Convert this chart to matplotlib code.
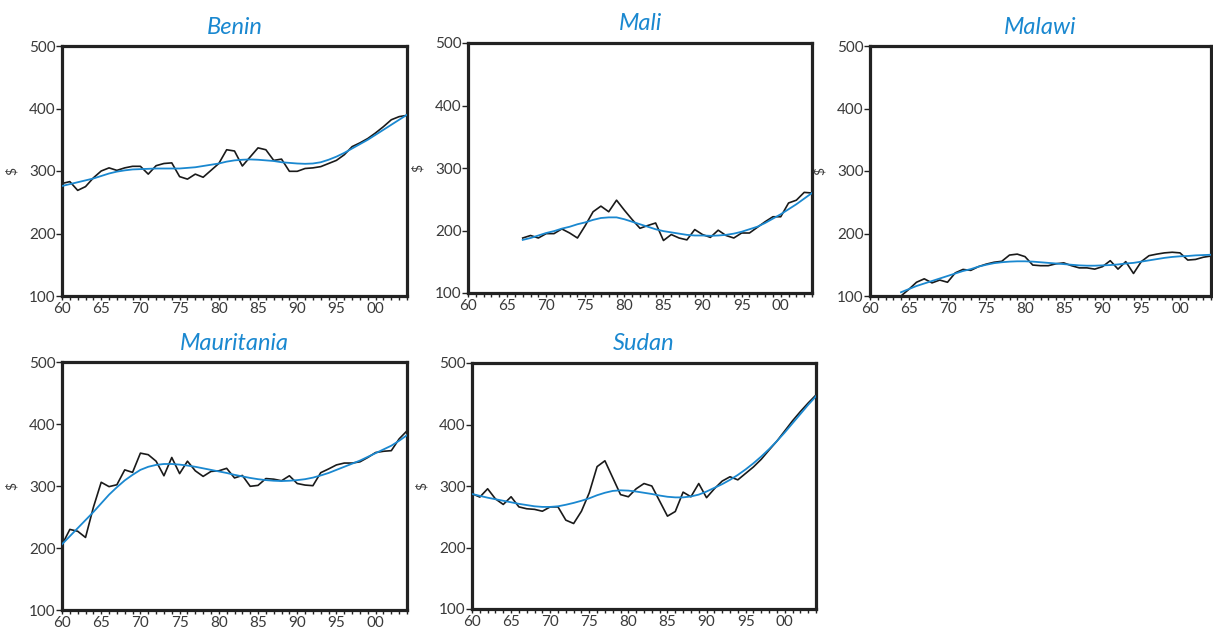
import numpy as np
import matplotlib
matplotlib.use("Agg")
import matplotlib.pyplot as plt
from matplotlib.ticker import MultipleLocator, FuncFormatter

plt.rcParams['font.family'] = ['Lato', 'DejaVu Sans']

countries = ["Benin", "Mali", "Malawi", "Mauritania", "Sudan"]

benin_years = list(range(1960, 2005))
benin_gdp = [280, 283, 269, 275, 289, 300, 305, 301, 305, 307.5, 307.5, 295, 308.5, 312, 313,
             291, 287, 295, 290, 301, 312, 334, 332, 308, 322.5, 337, 334, 317, 319, 299.5,
             299.5, 304, 305, 307, 312, 317, 326, 339, 345, 352, 361, 371, 382, 387, 389]
benin_trend = [276, 279, 282, 285, 288, 292, 296, 299, 301, 302.5, 303, 303.5, 304, 304, 304,
               304, 305, 306, 308, 310, 312, 315, 317, 318, 318.5, 318, 317, 316, 314, 313,
               312, 311.5, 312, 314, 318, 323, 329, 336, 343, 350, 358, 366, 374, 382, 390]

mali_years = list(range(1967, 2005))
mali_gdp = [188, 192, 188, 195, 195, 202.5, 196, 188, 208, 230, 239, 230, 248.5, 232.5, 217.5,
            203.5, 208, 212, 184, 193.5, 188, 185, 201.5, 193.5, 189, 200.5, 192, 188, 196, 196,
            205, 214, 222, 222, 244, 248.5, 261, 260]
mali_trend = [185, 188, 192, 196, 199, 203, 206, 210, 213, 217, 220, 221, 221, 218, 214,
              210, 206, 202, 199, 197, 195, 193, 192, 192, 191.5, 192, 193, 195, 198, 202,
              206, 212, 219, 226, 234, 242, 251, 260]

malawi_years = list(range(1964, 2005))
malawi_gdp = [100, 110.5, 122, 127.5, 121, 125.5, 122, 137, 142.5, 141, 147, 151, 154, 155.5,
              165.5, 167, 163, 149.5, 148.5, 148.5, 151.5, 153, 148.5, 145, 145, 143, 147,
              156.5, 143, 155, 136, 155, 164.5, 167, 169, 170, 169, 157.5, 158.5, 162, 164]
malawi_trend = [106, 111, 116, 120, 124, 128, 132, 136, 140, 143, 147, 150, 152.5, 154, 155,
                155.5, 155.5, 155, 154, 153, 152, 151, 150, 149, 148.5, 148.5, 149, 149.5,
                150.5, 152, 153, 155, 157, 159, 161, 162.5, 163.5, 164, 165, 165.5, 166]

mauritania_years = list(range(1960, 2005))
mauritania_gdp = [205, 230, 227, 217, 265.5, 306, 299, 302, 326, 322, 353, 350.5, 340, 316.5,
                  346, 320, 340, 324.5, 315.5, 323.5, 324.5, 328.5, 313, 317, 299.5, 301, 312,
                  311, 308.5, 316.5, 304, 301.5, 300.5, 321.5, 327.5, 334, 337, 337, 339, 346,
                  354, 356, 357, 376, 389]
mauritania_trend = [206, 219, 232, 245, 258, 272, 286, 298, 309, 318, 326, 331, 334, 335.5,
                    335.5, 334.5, 333, 331, 328.5, 326, 323.5, 321, 318, 315.5, 313, 311, 309.5,
                    308.5, 308, 308.5, 309.5, 311, 313.5, 317, 321, 326, 331, 336, 341, 347,
                    353, 359, 365, 373, 382]

sudan_years = list(range(1960, 2005))
sudan_gdp = [287.5, 282, 295.5, 279, 270, 282.5, 266, 263, 262, 259, 266, 266, 244.5, 239, 259,
             289, 331.5, 341, 313.5, 286, 282.5, 295.5, 304, 300, 275.5, 251, 258.5, 290, 282.5,
             304, 281, 295.5, 308, 315, 310, 320.5, 331, 343.5, 358.5, 373, 389.5, 406, 421,
             435, 448]
sudan_trend = [287, 284, 281, 278.5, 276, 273.5, 271, 269, 267, 266, 266, 267, 269.5, 272.5,
               276, 280, 285, 289, 292, 293, 292.5, 291, 289, 287, 284.5, 282.5, 281.5, 281.5,
               283, 286, 291, 297, 303, 310, 318, 327, 337, 348, 360, 373, 387, 402, 417, 432,
               446]

series = [
    (benin_years, benin_gdp, benin_trend),
    (mali_years, mali_gdp, mali_trend),
    (malawi_years, malawi_gdp, malawi_trend),
    (mauritania_years, mauritania_gdp, mauritania_trend),
    (sudan_years, sudan_gdp, sudan_trend),
]

W, H = 1213, 635
# axes boxes in pixels: left, top, right, bottom
boxes = [
    (62, 46, 407, 296),
    (468, 43, 812, 293),
    (870, 46, 1211, 296),
    (62, 362, 407, 610),
    (472, 363, 816, 609),
]

BLUE = "#1a88d0"
TXT = "#3a3a3a"

fig = plt.figure(figsize=(W / 100, H / 100), dpi=100)

for name, (yrs, gdp, trend), (l, t, r, b) in zip(countries, series, boxes):
    ax = fig.add_axes([l / W, 1 - b / H, (r - l) / W, (b - t) / H])
    ax.plot(yrs, gdp, color="#1a1a1a", lw=1.2, zorder=2)
    ax.plot(yrs, trend, color=BLUE, lw=1.3, zorder=3)
    ax.set_xlim(1960, 2004)
    ax.set_ylim(100, 500)
    ax.xaxis.set_major_locator(MultipleLocator(5))
    ax.xaxis.set_minor_locator(MultipleLocator(1))
    ax.yaxis.set_major_locator(MultipleLocator(100))
    ax.xaxis.set_major_formatter(FuncFormatter(lambda v, p: "%02d" % (int(round(v)) % 100)))
    ax.tick_params(axis="x", which="both", direction="out", length=3, width=1,
                   color="#222222", labelsize=11, labelcolor=TXT, pad=1.5, top=False)
    ax.tick_params(axis="y", which="major", direction="out", length=4, width=1,
                   color="#222222", labelsize=11, labelcolor=TXT, pad=0.5, right=False)
    for s in ax.spines.values():
        s.set_linewidth(2.3)
        s.set_color("#222222")
    ax.set_ylabel("$", fontsize=10, color=TXT, labelpad=8)
    ax.set_title(name, fontsize=17, style="italic", fontweight="normal", color=BLUE, pad=9)

fig.savefig("out.png", dpi=100)
